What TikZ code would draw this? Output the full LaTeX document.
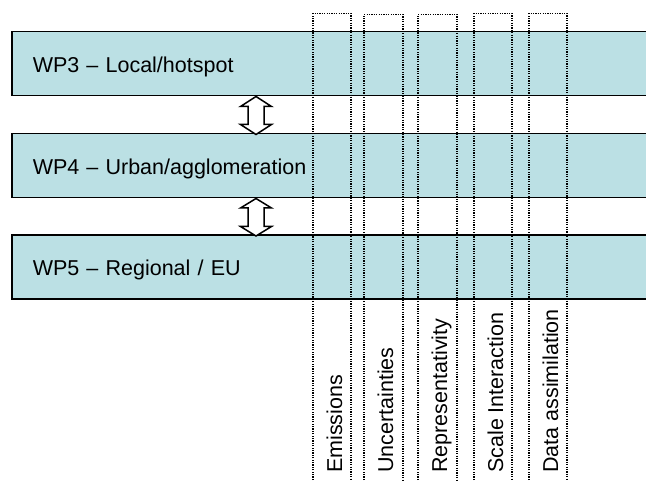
\documentclass[tikz,border=0pt]{standalone}
\usepackage{fontspec}
\setmainfont{Liberation Sans}
\usetikzlibrary{calc}
\definecolor{barfill}{RGB}{187,224,228}
\tikzset{
  bar/.style={draw=black, line width=1.5pt, fill=barfill, anchor=north west,
    minimum width=640pt, minimum height=64pt, text width=598pt, inner xsep=21pt,
    inner ysep=0pt, align=left, text height=17pt, text depth=0pt,
    font=\fontsize{21.5}{25}\selectfont},
  colline/.style={draw=black, line width=1.2pt, dash pattern=on 1.2pt off 1.2pt},
  collabel/.style={rotate=90, anchor=base west, inner sep=0pt,
    font=\fontsize{21.5}{25}\selectfont},
  blockarrow/.style={draw=black, line width=1.5pt, fill=white, line join=miter}
}
\begin{document}
\begin{tikzpicture}[x=1pt,y=-1pt]
\clip (0,0) rectangle (646,481);
\fill[white] (0,0) rectangle (646,481);
% bars
\node[bar] (wp3) at (11,31) {WP3 -- Local/hotspot};
\node[bar] (wp4) at (11,133) {WP4 -- Urban/agglomeration};
\node[bar] (wp5) at (11,234.5) {WP5 -- Regional / EU};
% arrows
\coordinate (a1) at (wp3.south -| 256,0);
\coordinate (a2) at (wp4.south -| 256,0);
\draw[blockarrow] (a1) -- ++(15.5,10) -- ++(-7.5,0) -- ++(0,18) -- ++(7.5,0)
  -- ++(-15.5,10) -- ++(-15.5,-10) -- ++(7.5,0) -- ++(0,-18) -- ++(-7.5,0) -- cycle;
\draw[blockarrow] (a2) -- ++(15.5,9.5) -- ++(-7.5,0) -- ++(0,18.5) -- ++(7.5,0)
  -- ++(-15.5,9.5) -- ++(-15.5,-9.5) -- ++(7.5,0) -- ++(0,-18.5) -- ++(-7.5,0) -- cycle;
% columns
\foreach \l/\r/\t/\name/\txt in {313/351/13.5/c1/Emissions,
                                364/403/14.5/c2/Uncertainties,
                                418/457/14.5/c3/Representativity,
                                474/512/13.5/c4/Scale Interaction,
                                529/567/13.5/c5/Data assimilation}{
  \draw[colline] (\l,480) -- (\l,\t) -- (\r,\t) -- (\r,480);
  \node[collabel] (\name) at (\l+29,473) {\txt};
}
\end{tikzpicture}
\end{document}
